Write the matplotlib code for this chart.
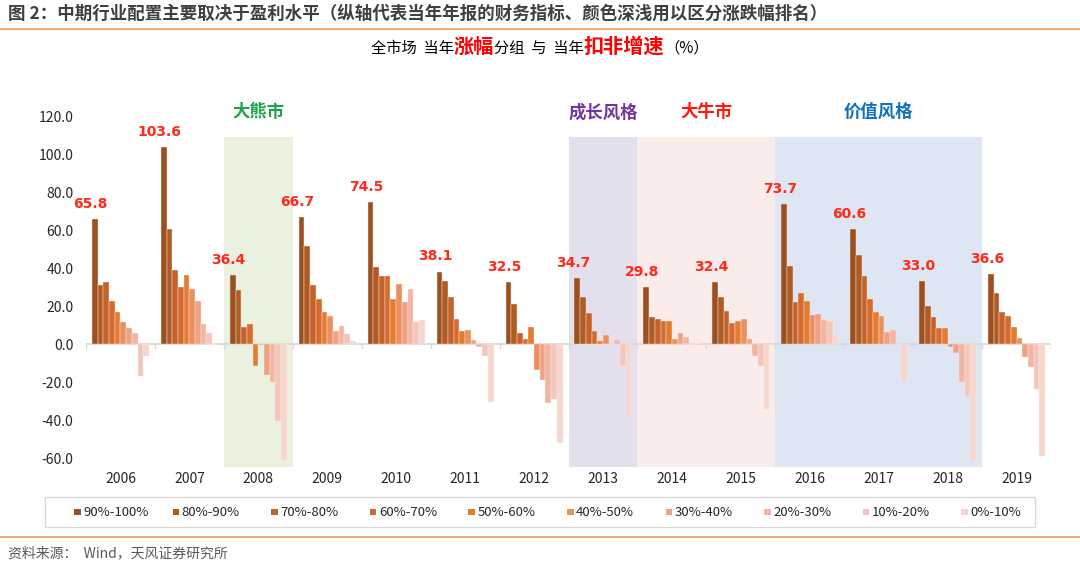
import matplotlib
matplotlib.use("Agg")
import matplotlib.pyplot as plt
from matplotlib.patches import Rectangle
from matplotlib.lines import Line2D
import numpy as np

plt.rcParams["font.family"] = ["Noto Sans CJK SC", "DejaVu Sans"]

years = ["2006", "2007", "2008", "2009", "2010", "2011", "2012",
         "2013", "2014", "2015", "2016", "2017", "2018", "2019"]
groups = ["90%-100%", "80%-90%", "70%-80%", "60%-70%", "50%-60%",
          "40%-50%", "30%-40%", "20%-30%", "10%-20%", "0%-10%"]

# 扣非增速 (%) per year, groups ordered from top performers down
v2006 = [65.8, 31.2, 32.5, 22.4, 16.8, 11.8, 8.5, 5.6, -17.1, -6.3]
v2007 = [103.6, 60.3, 39.2, 30.0, 36.2, 29.1, 22.4, 10.6, 6.0, -0.6]
v2008 = [36.4, 28.4, 8.8, 10.6, -11.8, -0.4, -16.4, -19.9, -40.6, -60.8]
v2009 = [66.7, 51.5, 30.9, 23.8, 16.8, 15.0, 7.1, 9.7, 5.3, 1.4]
v2010 = [74.5, 40.6, 35.6, 35.6, 23.8, 31.7, 22.0, 28.7, 11.8, 12.7]
v2011 = [38.1, 33.2, 25.0, 13.1, 6.7, 7.4, 2.1, -1.5, -6.5, -30.3]
v2012 = [32.5, 20.8, 5.8, 2.6, 8.8, -13.8, -18.7, -30.9, -28.7, -52.0]
v2013 = [34.7, 24.7, 16.2, 6.7, 1.8, 4.8, 0.0, 2.3, -11.8, -37.4]
v2014 = [29.8, 14.1, 13.2, 12.0, 12.0, 2.5, 5.6, 3.9, -0.5, 0.5]
v2015 = [32.4, 24.7, 17.6, 10.9, 12.0, 13.1, 2.6, -6.2, -11.5, -34.4]
v2016 = [73.7, 41.0, 22.0, 27.0, 22.6, 15.5, 15.9, 12.7, 12.3, 4.8]
v2017 = [60.6, 46.9, 35.6, 23.8, 17.1, 14.5, 6.5, 7.4, 0.0, -18.7]
v2018 = [33.0, 19.8, 14.1, 8.5, 8.5, -1.8, -4.9, -19.8, -27.7, -60.8]
v2019 = [36.6, 27.0, 17.1, 14.6, 8.8, 3.0, -7.1, -12.0, -23.5, -58.7]

# market regimes: (first year, last year, label)
regime_start = ["2008", "2013", "2014", "2016"]
regime_end = ["2008", "2013", "2015", "2018"]
regime_label = ["大熊市", "成长风格", "大牛市", "价值风格"]

COLORS = ["#9C4F1F", "#B05A24", "#C3622A", "#D56B2D", "#E47B33",
          "#EA8F5E", "#EEA183", "#F1B5A2", "#F3C6B9", "#F6D6CD"]
REGIME_FILL = ["#EAF2DF", "#E4DFEC", "#F9ECEB", "#DDE6F2"]
REGIME_TEXT = ["#1FA24A", "#7434A0", "#FF1A0A", "#1070C0"]
RED = "#FF2A1A"

data = np.array([v2006, v2007, v2008, v2009, v2010, v2011, v2012,
                 v2013, v2014, v2015, v2016, v2017, v2018, v2019])

fig = plt.figure(figsize=(10.8, 5.64), dpi=100)
ax = fig.add_axes([86 / 1080, 1 - 467.5 / 564, 965 / 1080, 370.5 / 564])
ax.set_xlim(0, len(years))
ax.set_ylim(-65, 130)

# regime shading
for s, e, lab, fc, tc in zip(regime_start, regime_end, regime_label, REGIME_FILL, REGIME_TEXT):
    i0, i1 = years.index(s), years.index(e) + 1
    ax.add_patch(Rectangle((i0, -64.5), i1 - i0, 173.5, facecolor=fc,
                           edgecolor="none", zorder=0))
    ax.text((i0 + i1) / 2, 122, lab, ha="center", va="center", color=tc,
            fontsize=12.5, fontweight="bold", clip_on=False)

w = 0.0826
xc = np.arange(len(years)) + 0.5
for j in range(len(groups)):
    ax.bar(xc + (j - 4.5) * w, data[:, j], w, color=COLORS[j],
           edgecolor="#FBEDE6", linewidth=0.3, label=groups[j], zorder=2)

# top-group value labels
for i in range(len(years)):
    v = data[i, 0]
    ax.annotate(f"{v:.1f}", (xc[i] - 4.5 * w - 0.06, v), xytext=(0, 6),
                textcoords="offset points", ha="center", va="bottom",
                color=RED, fontsize=10, fontweight="bold",
                family=["DejaVu Sans"], zorder=3)

# zero line with category ticks
ax.axhline(0, color="#D9D9D9", linewidth=1.3, zorder=1)
for b in range(len(years) + 1):
    ax.plot([b, b], [0, -2.2], color="#D9D9D9", linewidth=1.0, zorder=1)

for sp in ax.spines.values():
    sp.set_visible(False)
ax.set_yticks(np.arange(-60, 121, 20))
ax.set_yticklabels([f"{t:.1f}" for t in np.arange(-60, 121, 20)])
ax.set_xticks(xc)
ax.set_xticklabels(years)
ax.tick_params(axis="both", length=0, labelsize=10, colors="#262626")
ax.tick_params(axis="y", pad=9)
ax.tick_params(axis="x", pad=3)

# legend, drawn as a fixed-pitch row like the source
fig.add_artist(Rectangle((45 / 1080, 1 - 527 / 564), 990 / 1080, 30 / 564,
                         transform=fig.transFigure, facecolor="white",
                         edgecolor="#D9D9D9", linewidth=1.0))
ly = 1 - 512 / 564
for j, g in enumerate(groups):
    mx = 74 + j * 98.6
    fig.add_artist(Rectangle((mx / 1080, ly - 3.2 / 564), 6.5 / 1080, 6.5 / 564,
                             transform=fig.transFigure, facecolor=COLORS[j],
                             edgecolor="none"))
    fig.text((mx + 9) / 1080, ly, g, ha="left", va="center", fontsize=9.5,
             color="#262626")

# header / footer
fig.text(8 / 1080, 1 - 14 / 564, "图 2：中期行业配置主要取决于盈利水平（纵轴代表当年年报的财务指标、颜色深浅用以区分涨跌幅排名）",
         ha="left", va="center", fontsize=12.6, fontweight="bold", color="#3F3F3F")
fig.add_artist(Line2D([0, 1], [1 - 29 / 564] * 2, color="#F0A060", linewidth=1.3))
fig.add_artist(Line2D([0, 1], [1 - 537 / 564] * 2, color="#F0A060", linewidth=1.3))
fig.text(8 / 1080, 1 - 553 / 564, "资料来源：  Wind，天风证券研究所", ha="left", va="center",
         fontsize=10, color="#595959")

# subtitle built from pieces
pieces = [("全市场  当年", 11, "normal", "#000000"),
          ("涨幅", 14.5, "bold", "#FF0000"),
          ("分组  与  当年", 11, "normal", "#000000"),
          ("扣非增速", 14.5, "bold", "#FF0000"),
          ("（%）", 11, "normal", "#000000")]
fig.canvas.draw()
r = fig.canvas.get_renderer()
base_y = 1 - 53 / 564
arts = []
x = 0.0
for txt, fs, fw, c in pieces:
    t = fig.text(x, base_y, txt, fontsize=fs, fontweight=fw, color=c, ha="left", va="baseline")
    wpx = t.get_window_extent(r).width
    arts.append((t, x))
    x += wpx / 1080
shift = 0.5 - x / 2
for t, x0 in arts:
    t.set_x(x0 + shift)

fig.savefig("out.png", dpi=100)
